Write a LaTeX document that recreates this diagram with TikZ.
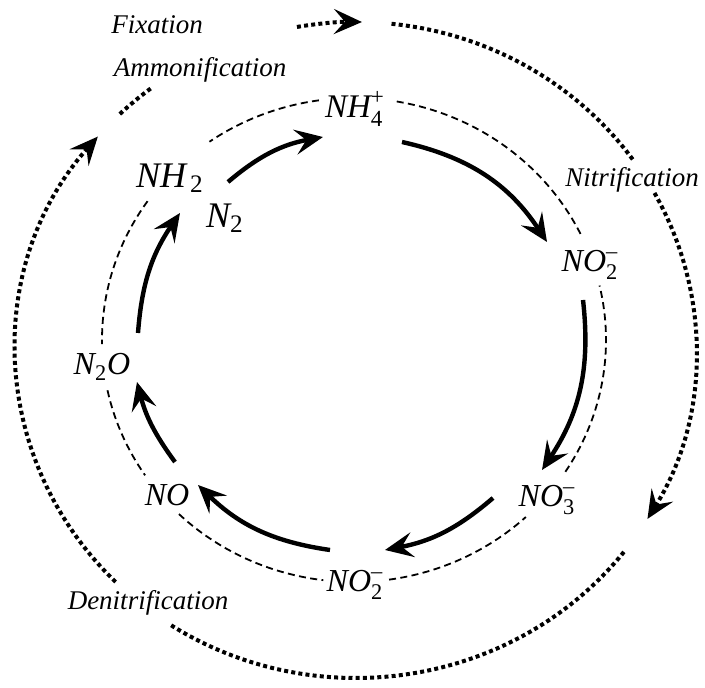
\documentclass[tikz,border=0pt]{standalone}
\usepackage{amsmath}
\usepackage{fontspec}
\setmainfont{Liberation Serif}
\newfontfamily\tnr{Liberation Serif}
\usetikzlibrary{arrows.meta}

\begin{document}
\begin{tikzpicture}[
		x=0.5pt,y=0.5pt,
		flow/.style={
			line width=2.2pt,
		},
		ring/.style={
			line width=0.9pt,
			dash pattern=on 3.5pt off 2.2pt
		},
		outer/.style={
			line width=2pt,
			dash pattern=on 2pt off 1.6pt
		},
		lbl/.style={font=\tnr\fontsize{13.5}{16}\selectfont\itshape},
		spec/.style={font=\tnr\fontsize{16}{19}\selectfont},
		>={Stealth[length=14pt,width=12.5pt,inset=5.5pt]}
		]
		\useasboundingbox (0,0) rectangle (705,688);
		% Process labels
		\node[lbl] (fix) at (157,663) {Fixation};
		\node[lbl] (amm) at (200,618) {Ammonification};
		\node[lbl] (nit) at (632,508) {Nitrification};
		\node[lbl] (denit) at (148,85) {Denitrification};
		% Species
		\node[spec,font=\tnr\fontsize{16.5}{19}\selectfont] (nh4) at (355,579) {$\textit{NH}_{\textrm{4}}^{\textrm{+}}$};
		\node[spec,font=\tnr\fontsize{18}{21}\selectfont] (nh2) at (170,510) {$\textit{NH}_{\,\textrm{2}}$};
		\node[spec,font=\tnr\fontsize{18}{21}\selectfont] (ntwo) at (225,470) {$\textit{N}_{\textrm{2}}$};
		\node[spec] (no2a) at (590,423) {$\textit{NO}_{\textrm{2}}^{\textrm{--}}$};
		\node[spec] (no3) at (547,188) {$\textit{NO}_{\textrm{3}}^{\textrm{--}}$};
		\node[spec] (no2b) at (355,103) {$\textit{NO}_{\textrm{2}}^{\textrm{--}}$};
		\node[spec] (no) at (167,193) {$\textit{NO}$};
		\node[spec] (n2o) at (102,321) {$\textit{N}_{\textrm{2}}\textit{O}$};
		% Arrow ends
		\foreach \n/\x/\y in {s1/228/506, t1/323/551, s2/402/546, t2/547/446,
			s3/583/388, t3/542/218, s4/493/190, t4/385/138, s5/330/138, t5/198/203,
			s6/175/226, t6/137/306, s7/138/355, t7/180/475}
			\coordinate (\n) at (\x,\y);
		% Reactions
		\foreach \i/\b in {1/15,2/22,3/20,4/15,5/18,6/11,7/15}
			\draw[flow,->] (s\i) to[bend left=\b] (t\i);
		% Inner ring
		\begin{scope}[shift={(354,348)}]
			\foreach \a/\b in {98/125, 26/81, -33/13, -82/-47, -134/-97, -168/-146, -215/-179}
				\draw[ring] (\a:252 and 242) arc[start angle=\a, end angle=\b, x radius=252, y radius=242];
		\end{scope}
		% Outer cycle
		\begin{scope}[shift={(356,338)}]
			\foreach \a/\b in {84/35, -38/-123, 134/127}
				\draw[outer] (\a:340 and 328) arc[start angle=\a, end angle=\b, x radius=340, y radius=328];
			\foreach \a/\b in {100/89, 28.6/-31, 225/139.4}
				\draw[outer,->] (\a:340 and 328) arc[start angle=\a, end angle=\b, x radius=340, y radius=328];
		\end{scope}
\end{tikzpicture}
\end{document}
